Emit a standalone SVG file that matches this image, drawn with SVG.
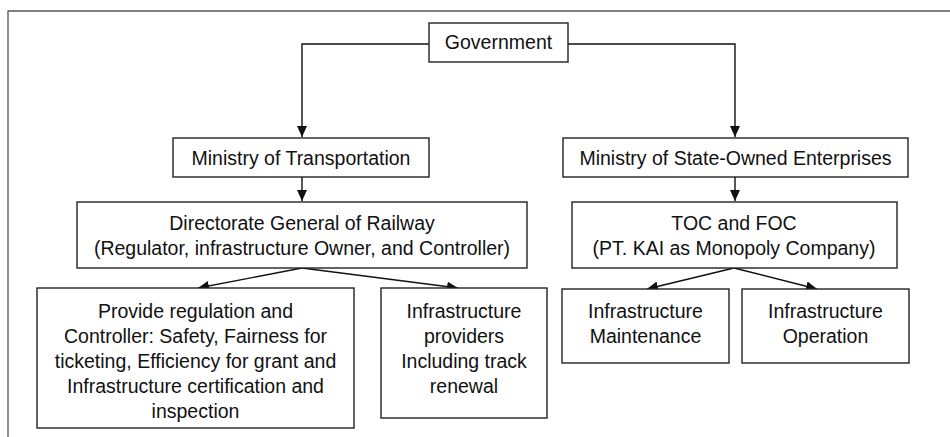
<svg xmlns="http://www.w3.org/2000/svg" width="950" height="437" viewBox="0 0 950 437">
<style>
.box{fill:#fff;stroke:#222;stroke-width:1.4}
.t{font-family:"Liberation Sans",Arial,sans-serif;font-size:19.5px;fill:#111;text-anchor:middle}
.c{fill:none;stroke:#111;stroke-width:1.4}
.frame{fill:none;stroke:#555;stroke-width:1.3}
</style>
<defs>
<marker id="ah" markerWidth="11" markerHeight="10" refX="11" refY="5" orient="auto" markerUnits="userSpaceOnUse">
<path d="M0,0 L11,5 L0,10 z" fill="#111"/>
</marker>
</defs>
<rect width="950" height="437" fill="#fff"/>
<path class="frame" d="M8,437 L8,11 L950,11"/>
<g id="connectors">
<path class="c" d="M429,44 L302,44 L302,137" marker-end="url(#ah)"/>
<path class="c" d="M568,44 L735,44 L735,137" marker-end="url(#ah)"/>
<path class="c" d="M302,177 L302,201" marker-end="url(#ah)"/>
<path class="c" d="M735,177 L735,201" marker-end="url(#ah)"/>
<path class="c" d="M302,268 L198,288" marker-end="url(#ah)"/>
<path class="c" d="M302,268 L458,288" marker-end="url(#ah)"/>
<path class="c" d="M734,268 L647,289" marker-end="url(#ah)"/>
<path class="c" d="M734,268 L817,289" marker-end="url(#ah)"/>
</g>
<g id="government">
<rect class="box" x="429" y="23" width="139" height="39"/>
<text class="t" x="498.5" y="49">Government</text>
</g>
<g id="mot">
<rect class="box" x="173" y="138" width="256" height="39"/>
<text class="t" x="301" y="165">Ministry of Transportation</text>
</g>
<g id="msoe">
<rect class="box" x="563" y="138" width="345" height="39"/>
<text class="t" x="735.5" y="165">Ministry of State-Owned Enterprises</text>
</g>
<g id="dgr">
<rect class="box" x="77" y="202" width="450" height="66"/>
<text class="t" x="302" y="230">Directorate General of Railway</text>
<text class="t" x="302" y="255">(Regulator, infrastructure Owner, and Controller)</text>
</g>
<g id="toc">
<rect class="box" x="572" y="202" width="325" height="66"/>
<text class="t" x="734" y="230">TOC and FOC</text>
<text class="t" x="734" y="255">(PT. KAI as Monopoly Company)</text>
</g>
<g id="regulation">
<rect class="box" x="37" y="288" width="317" height="140"/>
<text class="t" x="195.5" y="318">Provide regulation and</text>
<text class="t" x="195.5" y="343">Controller: Safety, Fairness for</text>
<text class="t" x="195.5" y="368">ticketing, Efficiency for grant and</text>
<text class="t" x="195.5" y="393">Infrastructure certification and</text>
<text class="t" x="195.5" y="418">inspection</text>
</g>
<g id="providers">
<rect class="box" x="381" y="288" width="166" height="130"/>
<text class="t" x="464" y="318">Infrastructure</text>
<text class="t" x="464" y="343">providers</text>
<text class="t" x="464" y="368">Including track</text>
<text class="t" x="464" y="393">renewal</text>
</g>
<g id="maintenance">
<rect class="box" x="562" y="289" width="167" height="74"/>
<text class="t" x="645.5" y="318">Infrastructure</text>
<text class="t" x="645.5" y="343">Maintenance</text>
</g>
<g id="operation">
<rect class="box" x="742" y="289" width="167" height="74"/>
<text class="t" x="825.5" y="318">Infrastructure</text>
<text class="t" x="825.5" y="343">Operation</text>
</g>
</svg>
